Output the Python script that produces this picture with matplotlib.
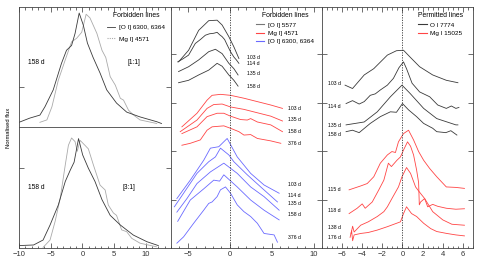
import matplotlib
matplotlib.use("Agg")
from matplotlib import pyplot as plt
from matplotlib.lines import Line2D
from matplotlib.ticker import MultipleLocator, FixedLocator

plt.rcParams['font.family'] = ['Liberation Sans', 'DejaVu Sans']

# ---- left panels: [O I] 6300,6364 vs Mg I] 4571 (158 d)
lt_x_oi = [-10, -8.3, -6.7, -5.9, -4.6, -3.3, -2.5, -1.7, -1.15, -0.5, 0.15, 0.8, 1.7, 2.8, 3.85, 5.4, 7.0, 9.1, 11.75, 12.5]
lt_y_oi = [0.04, 0.075, 0.10, 0.17, 0.31, 0.53, 0.64, 0.68, 0.78, 0.95, 0.85, 0.70, 0.58, 0.45, 0.31, 0.20, 0.125, 0.085, 0.045, 0.03]
lt_x_mg = [-6.7, -5.6, -4.8, -3.8, -2.7, -1.7, -0.9, -0.1, 0.6, 1.2, 2.3, 3.1, 3.7, 4.4, 5.2, 6.0, 6.5, 7.3, 8.1, 9.1, 11.75]
lt_y_mg = [0.04, 0.06, 0.17, 0.39, 0.56, 0.71, 0.74, 0.79, 0.94, 0.91, 0.78, 0.64, 0.58, 0.42, 0.35, 0.24, 0.225, 0.14, 0.10, 0.06, 0.03]

lb_x_oi = [-10, -7.7, -6.2, -5.1, -3.8, -2.7, -1.9, -1.3, -0.6, 0.05, 0.95, 2.0, 3.1, 4.4, 6.0, 8.05, 10.2, 12.0]
lb_y_oi = [0.02, 0.025, 0.066, 0.19, 0.355, 0.55, 0.645, 0.71, 0.905, 0.77, 0.66, 0.55, 0.40, 0.27, 0.19, 0.107, 0.052, 0.02]
lb_x_mg = [-6.2, -5.1, -4.3, -3.5, -2.7, -2.2, -1.7, -1.15, -0.8, -0.35, 0.4, 0.95, 1.75, 2.8, 3.6, 4.1, 4.9, 5.4, 6.2, 7.0, 7.8, 9.1, 11.7]
lb_y_mg = [0.005, 0.066, 0.22, 0.41, 0.686, 0.85, 0.91, 0.88, 0.80, 0.89, 0.85, 0.82, 0.686, 0.52, 0.48, 0.355, 0.29, 0.27, 0.15, 0.135, 0.08, 0.04, 0.01]

# ---- middle panel: forbidden lines, offset spectra
mid_black = {
    '103 d': ([-6.1, -4.9, -3.7, -2.5, -1.5, -0.9, -0.1, 0.5, 1.1],
              [3.84, 4.08, 4.49, 4.69, 4.70, 4.60, 4.36, 4.15, 3.91]),
    '114 d': ([-6.2, -5.6, -4.9, -4.5, -4.1, -3.5, -2.9, -2.4, -1.9, -1.5, -1.2, -0.9, -0.6, -0.3, 0.1, 0.5, 0.8, 1.1],
              [3.84, 3.90, 3.98, 4.10, 4.22, 4.30, 4.39, 4.42, 4.43, 4.45, 4.40, 4.36, 4.30, 4.19, 4.05, 3.94, 3.88, 3.81]),
    '135 d': ([-6.1, -4.9, -3.7, -2.5, -1.7, -0.9, -0.1, 0.5, 1.0],
              [3.64, 3.74, 3.88, 4.05, 4.10, 4.01, 3.81, 3.70, 3.57]),
    '158 d': ([-6.1, -4.9, -3.7, -2.5, -1.5, -0.9, -0.1, 0.5, 1.0],
              [3.41, 3.46, 3.57, 3.67, 3.81, 3.75, 3.57, 3.46, 3.34]),
}
mid_red = {
    '103 d': ([-5.7, -3.9, -2.7, -2.1, -1.1, 0.1, 1.7, 3.3, 4.9, 6.3],
              [2.50, 2.78, 3.05, 3.15, 3.17, 3.15, 3.09, 3.02, 2.95, 2.88]),
    '135 d': ([-5.9, -3.9, -2.7, -1.9, -0.9, 0.1, 1.7, 3.3, 4.9, 6.3],
              [2.40, 2.64, 2.88, 2.96, 2.97, 2.91, 2.86, 2.79, 2.72, 2.62]),
    '158 d': ([-5.7, -3.9, -2.7, -1.5, -0.7, 0.1, 1.3, 2.1, 2.5, 3.3, 4.9, 6.3],
              [2.36, 2.50, 2.71, 2.78, 2.78, 2.72, 2.65, 2.64, 2.67, 2.60, 2.54, 2.40]),
    '376 d': ([-5.7, -4.7, -3.5, -2.7, -2.1, -0.7, 0.1, 1.1, 1.7, 2.5, 3.3, 4.9, 6.1],
              [2.12, 2.16, 2.23, 2.43, 2.50, 2.52, 2.47, 2.40, 2.33, 2.34, 2.26, 2.21, 2.16]),
}
mid_blue = {
    '103 d': ([-6.3, -4.7, -3.1, -2.3, -1.3, -0.3, 0.9, 2.5, 4.1, 5.9],
              [1.02, 1.40, 1.81, 2.06, 2.09, 2.26, 1.88, 1.54, 1.30, 1.13]),
    '114 d': ([-6.6, -5.5, -3.9, -2.5, -1.7, -1.1, -0.1, 0.5, 2.1, 3.7, 5.7],
              [0.85, 1.13, 1.54, 1.78, 1.88, 2.06, 1.92, 1.78, 1.51, 1.26, 0.95]),
    '135 d': ([-6.3, -5.1, -3.9, -2.3, -0.7, 0.9, 2.5, 4.1, 5.9],
              [0.74, 1.02, 1.33, 1.57, 1.75, 1.54, 1.26, 1.06, 0.78]),
    '158 d': ([-6.2, -4.7, -3.1, -1.9, -1.2, -0.7, 0.9, 2.5, 4.1, 5.9],
              [0.55, 0.99, 1.22, 1.40, 1.38, 1.51, 1.26, 0.99, 0.78, 0.58]),
    '376 d': ([-6.3, -5.5, -4.3, -3.1, -2.5, -2.1, -1.5, -1.1, -0.5, 0.1, 0.9, 1.7, 2.5, 3.3, 4.1, 4.9, 5.3, 5.7],
              [0.10, 0.23, 0.51, 0.78, 0.92, 0.95, 1.06, 1.20, 1.26, 1.13, 0.89, 0.75, 0.65, 0.51, 0.30, 0.28, 0.27, 0.12]),
}

# ---- right panel: permitted lines
right_black = {
    '103 d': ([-5.7, -4.96, -3.8, -2.85, -1.5, -0.6, 0.1, 0.75, 1.7, 3.0, 4.35, 5.5],
              [3.36, 3.29, 3.57, 3.70, 3.98, 4.07, 4.08, 3.94, 3.74, 3.57, 3.46, 3.41]),
    '114 d': ([-5.6, -4.96, -4.3, -3.8, -3.2, -2.7, -2.2, -1.5, -0.9, -0.35, 0.1, 0.4, 0.95, 1.7, 2.7, 3.5, 4.35, 4.85, 5.3, 5.6],
              [2.98, 3.04, 2.97, 3.02, 3.15, 3.18, 3.26, 3.36, 3.50, 3.72, 3.84, 3.70, 3.40, 3.22, 3.12, 2.95, 2.88, 2.93, 2.88, 2.90]),
    '135 d': ([-5.6, -3.8, -2.5, -1.2, -0.05, 0.75, 2.1, 3.4, 5.3, 5.5],
              [2.54, 2.60, 2.81, 3.12, 3.36, 3.19, 2.88, 2.67, 2.54, 2.54]),
    '158 d': ([-5.6, -4.96, -4.3, -3.2, -2.2, -1.2, -0.6, 0.0, 0.6, 1.4, 2.1, 3.0, 3.4, 4.3, 4.8, 5.4],
              [2.40, 2.43, 2.38, 2.57, 2.71, 2.81, 2.80, 2.98, 2.85, 2.71, 2.57, 2.47, 2.40, 2.38, 2.42, 2.33]),
}
right_red = {
    '115 d': ([-5.3, -4.15, -3.5, -2.85, -2.2, -1.5, -1.05, -0.7, -0.4, 0.1, 0.6, 1.1, 1.6, 2.1, 2.7, 3.4, 4.35, 5.3, 6.15],
              [1.20, 1.28, 1.33, 1.47, 1.75, 1.92, 1.99, 1.97, 2.19, 2.36, 2.43, 2.23, 1.99, 1.81, 1.64, 1.47, 1.26, 1.25, 1.23]),
    '118 d': ([-5.3, -4.5, -4.0, -3.7, -3.0, -2.35, -1.85, -1.4, -1.1, -0.55, -0.2, 0.1, 0.5, 0.8, 1.1, 1.4, 1.6, 1.67, 1.8,
               2.2, 2.5, 3.0, 3.5, 4.35, 5.3, 6.15],
              [0.71, 0.82, 0.91, 0.82, 0.95, 1.20, 1.40, 1.75, 1.68, 1.81, 1.88, 2.02, 2.19, 2.10, 1.92, 1.61, 1.35, 0.89, 0.95,
               1.02, 0.85, 0.90, 0.86, 0.82, 0.80, 0.81]),
    '138 d': ([-5.1, -4.95, -4.8, -4.15, -3.4, -2.5, -1.85, -1.5, -1.05, -0.4, -0.05, 0.4, 0.8, 1.3, 1.7, 2.2, 3.0, 4.0, 4.9, 6.15],
              [0.30, 0.45, 0.33, 0.47, 0.54, 0.65, 0.75, 0.85, 1.02, 1.26, 1.47, 1.66, 1.54, 1.26, 1.15, 1.02, 0.75, 0.58, 0.49, 0.47]),
    '176 d': ([-5.2, -5.05, -4.95, -4.8, -4.15, -3.4, -2.5, -1.5, -0.2, 0.1, 0.4, 0.9, 1.4, 2.1, 2.8, 3.4, 4.4, 5.3, 6.15],
              [0.22, 0.36, 0.15, 0.27, 0.30, 0.32, 0.37, 0.44, 0.54, 0.71, 0.85, 0.71, 0.65, 0.51, 0.40, 0.34, 0.30, 0.27, 0.25]),
}

# label anchor positions (data coords)
mid_black_lab = [(2.1, 3.94), (2.1, 3.81), (2.1, 3.59), (2.1, 3.34)]
mid_red_lab = [(7.0, 2.88), (7.0, 2.65), (7.0, 2.40), (7.0, 2.16)]
mid_blue_lab = [(7.0, 1.30), (7.0, 1.08), (7.0, 0.91), (7.0, 0.69), (7.0, 0.22)]
right_black_lab = [(-7.4, 3.40), (-7.4, 2.91), (-7.4, 2.52), (-7.4, 2.34)]
right_red_lab = [(-7.4, 1.20), (-7.4, 0.78), (-7.4, 0.42), (-7.4, 0.21)]

BLACK = '#3a3a3a'
GREY = '#aaaaaa'
RED = '#ff4545'
BLUE = '#6a6aff'
LW = 0.6
FS_TICK = 5.5
FS_LEG = 4.6
FS_DAY = 3.7


def style(ax, major, minor, top=True, bottom=True):
    ax.xaxis.set_major_locator(MultipleLocator(major))
    ax.xaxis.set_minor_locator(MultipleLocator(minor))
    ax.tick_params(which='both', direction='in', top=top, bottom=bottom,
                   left=True, right=True, labelleft=False, labelsize=FS_TICK,
                   width=0.5, pad=2.5, colors='#333333')
    ax.tick_params(which='major', length=3.5)
    ax.tick_params(which='minor', length=1.8)
    for s in ax.spines.values():
        s.set_linewidth(0.6)
        s.set_color('#444444')


fig = plt.figure(figsize=(4.79, 2.61), dpi=100)
ax_lt = fig.add_axes([0.0397, 0.513, 0.3173, 0.460])
ax_lb = fig.add_axes([0.0397, 0.0498, 0.3173, 0.4632])
ax_m = fig.add_axes([0.357, 0.0498, 0.315, 0.923])
ax_r = fig.add_axes([0.672, 0.0498, 0.3155, 0.923])

# left top
ax_lt.plot(lt_x_mg, lt_y_mg, color=GREY, lw=LW)
ax_lt.plot(lt_x_oi, lt_y_oi, color=BLACK, lw=LW)
ax_lt.set_xlim(-10, 14)
ax_lt.set_ylim(0, 1)
style(ax_lt, 5, 1, top=True, bottom=False)
ax_lt.tick_params(labelbottom=False)
ax_lt.yaxis.set_major_locator(FixedLocator([0.333]))
ax_lt.yaxis.set_minor_locator(FixedLocator([]))
ax_lt.text(-8.6, 0.54, '158 d', fontsize=4.8, va='center')
ax_lt.text(7.2, 0.54, '[1:1]', fontsize=4.8, va='center')
h = [Line2D([], [], color=BLACK, lw=LW), Line2D([], [], color=GREY, lw=0.8, ls=(0, (1, 1)))]
ax_lt.legend(h, ['[O I] 6300, 6364', 'Mg I] 4571'], title='Forbidden lines',
             loc='upper left', bbox_to_anchor=(0.545, 1.0), frameon=False,
             fontsize=FS_LEG, title_fontsize=FS_LEG + 0.3, handlelength=1.3,
             handletextpad=0.6, labelspacing=0.9, borderpad=0.3)

# left bottom
ax_lb.plot(lb_x_mg, lb_y_mg, color=GREY, lw=LW)
ax_lb.plot(lb_x_oi, lb_y_oi, color=BLACK, lw=LW)
ax_lb.set_xlim(-10, 14)
ax_lb.set_ylim(0, 1)
style(ax_lb, 5, 1, top=False, bottom=True)
ax_lb.yaxis.set_major_locator(FixedLocator([0.66]))
ax_lb.yaxis.set_minor_locator(FixedLocator([]))
ax_lb.set_xticks([-10, -5, 0, 5, 10])
ax_lb.set_xticklabels(['\u221210', '\u22125', '0', '5', '10'])
ax_lb.text(-8.6, 0.50, '158 d', fontsize=4.8, va='center')
ax_lb.text(6.4, 0.50, '[3:1]', fontsize=4.8, va='center')

# middle
for (name, (x, y)), pos in zip(mid_black.items(), mid_black_lab):
    ax_m.plot(x, y, color=BLACK, lw=LW)
    ax_m.text(pos[0], pos[1], name, fontsize=FS_DAY, va='center')
for (name, (x, y)), pos in zip(mid_red.items(), mid_red_lab):
    ax_m.plot(x, y, color=RED, lw=LW)
    ax_m.text(pos[0], pos[1], name, fontsize=FS_DAY, va='center')
for (name, (x, y)), pos in zip(mid_blue.items(), mid_blue_lab):
    ax_m.plot(x, y, color=BLUE, lw=LW)
    ax_m.text(pos[0], pos[1], name, fontsize=FS_DAY, va='center')
ax_m.axvline(0, color='#333333', lw=0.6, ls=(0, (1.5, 1.5)))
ax_m.set_xlim(-7, 11)
ax_m.set_ylim(0, 4.97)
style(ax_m, 5, 1)
ax_m.yaxis.set_major_locator(FixedLocator([1, 2, 3, 4]))
ax_m.set_xticks([-5, 0, 5, 10])
ax_m.set_xticklabels(['\u22125', '0', '5', '10'])
h = [Line2D([], [], color='#777777', lw=0.8), Line2D([], [], color=RED, lw=0.8),
     Line2D([], [], color=BLUE, lw=0.8)]
ax_m.legend(h, ['[O I] 5577', 'Mg I] 4571', '[O I] 6300, 6364'], title='Forbidden lines',
            loc='upper left', bbox_to_anchor=(0.53, 1.0), frameon=False,
            fontsize=FS_LEG, title_fontsize=FS_LEG + 0.3, handlelength=1.3,
            handletextpad=0.5, labelspacing=0.45, borderpad=0.3)

# right
for (name, (x, y)), pos in zip(right_black.items(), right_black_lab):
    ax_r.plot(x, y, color=BLACK, lw=LW)
    ax_r.text(pos[0], pos[1], name, fontsize=FS_DAY, va='center')
for (name, (x, y)), pos in zip(right_red.items(), right_red_lab):
    ax_r.plot(x, y, color=RED, lw=LW)
    ax_r.text(pos[0], pos[1], name, fontsize=FS_DAY, va='center')
ax_r.axvline(0, color='#333333', lw=0.6, ls=(0, (1.5, 1.5)))
ax_r.set_xlim(-8, 7)
ax_r.set_ylim(0, 4.97)
style(ax_r, 2, 0.5)
ax_r.yaxis.set_major_locator(FixedLocator([1, 2, 3, 4]))
ax_r.set_xticks([-6, -4, -2, 0, 2, 4, 6])
ax_r.set_xticklabels(['\u22126', '\u22124', '\u22122', '0', '2', '4', '6'])
h = [Line2D([], [], color=BLACK, lw=0.8), Line2D([], [], color=RED, lw=0.8)]
ax_r.legend(h, ['O I 7774', 'Mg I 15025'], title='Permitted lines',
            loc='upper left', bbox_to_anchor=(0.6, 1.0), frameon=False,
            fontsize=FS_LEG, title_fontsize=FS_LEG + 0.3, handlelength=1.3,
            handletextpad=0.5, labelspacing=0.45, borderpad=0.3)

fig.text(0.017, 0.51, 'Normalised flux', rotation=90, fontsize=4.2, va='center', ha='center')

fig.savefig('out.png', dpi=100)
